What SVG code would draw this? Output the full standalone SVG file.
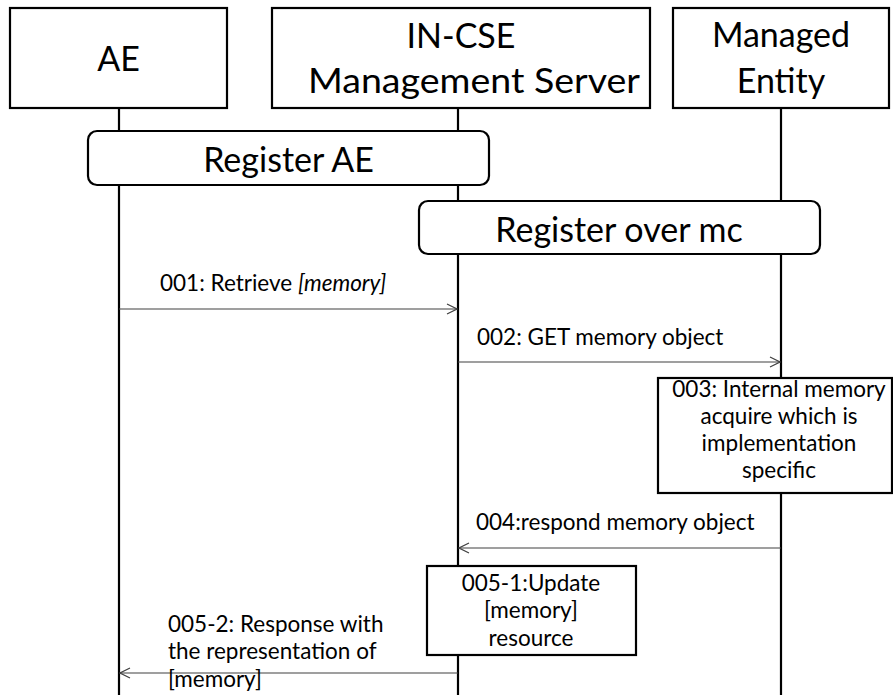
<svg xmlns="http://www.w3.org/2000/svg" width="893" height="695" viewBox="0 0 893 695">
<defs>
<style>
.box{fill:#fff;stroke:#000;stroke-width:2.2}
.life{stroke:#000;stroke-width:2.2;fill:none}
.msg{stroke:#404040;stroke-width:1.2;fill:none}
.big{font-family:Lato,"Liberation Sans",sans-serif;font-size:34px;fill:#000;text-anchor:middle}
.sm{font-family:Lato,"Liberation Sans",sans-serif;font-size:22.5px;fill:#000}
.smc{font-family:Lato,"Liberation Sans",sans-serif;font-size:22.5px;fill:#000;text-anchor:middle}
</style>
<marker id="arr" viewBox="0 0 12 12" refX="11" refY="6" markerWidth="12" markerHeight="12" markerUnits="userSpaceOnUse" orient="auto">
<path d="M1,1 L11,6 L1,11" fill="none" stroke="#404040" stroke-width="1.2"/>
</marker>
</defs>
<g id="lifelines">
<line class="life" x1="119" y1="108" x2="119" y2="695"/>
<line class="life" x1="458" y1="108" x2="458" y2="695"/>
<line class="life" x1="781" y1="108" x2="781" y2="695"/>
</g>
<g id="ae">
<rect class="box" x="10" y="8" width="217" height="100"/>
<text class="big" x="118.5" y="71">AE</text>
</g>
<g id="incse">
<rect class="box" x="272" y="8" width="378" height="100"/>
<text class="big" x="461" y="48">IN-CSE</text>
<text class="big" x="474" y="93" textLength="332" lengthAdjust="spacingAndGlyphs">Management Server</text>
</g>
<g id="me">
<rect class="box" x="673" y="8" width="216" height="100"/>
<text class="big" x="781" y="47">Managed</text>
<text class="big" x="781" y="93">Entity</text>
</g>
<g id="registerAE">
<rect class="box" x="88" y="131" width="401" height="54" rx="9"/>
<text class="big" x="288.5" y="172">Register AE</text>
</g>
<g id="registerMc">
<rect class="box" x="419" y="201" width="401" height="53" rx="9"/>
<text class="big" x="619" y="241.5">Register over mc</text>
</g>
<g id="connectors">
<line class="msg" x1="119" y1="309" x2="457" y2="309" marker-end="url(#arr)"/>
<line class="msg" x1="458" y1="362" x2="780" y2="362" marker-end="url(#arr)"/>
<line class="msg" x1="781" y1="548" x2="459" y2="548" marker-end="url(#arr)"/>
<line class="msg" x1="458" y1="673" x2="120" y2="673" marker-end="url(#arr)"/>
</g>
<g id="labels">
<text class="sm" x="160" y="291">001: Retrieve <tspan font-style="italic">[memory]</tspan></text>
<text class="sm" x="477" y="345">002: GET memory object</text>
<text class="sm" x="476" y="530">004:respond memory object</text>
<text class="sm" x="168" y="632">005-2: Response with</text>
<text class="sm" x="168" y="659">the representation of</text>
<text class="sm" x="168" y="687">[memory]</text>
</g>
<g id="step003">
<rect class="box" x="658" y="378" width="234" height="115"/>
<text class="smc" x="779" y="397">003: Internal memory</text>
<text class="smc" x="779" y="424">acquire which is</text>
<text class="smc" x="779" y="451">implementation</text>
<text class="smc" x="779" y="478">specific</text>
</g>
<g id="step0051">
<rect class="box" x="427" y="566" width="209" height="89"/>
<text class="smc" x="531" y="591">005-1:Update</text>
<text class="smc" x="531" y="618">[memory]</text>
<text class="smc" x="531" y="646">resource</text>
</g>
</svg>
